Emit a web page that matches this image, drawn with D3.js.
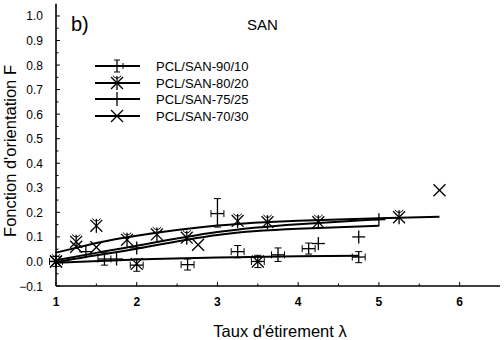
<!DOCTYPE html>
<html>
<head>
<meta charset="utf-8">
<script src="https://cdn.jsdelivr.net/npm/d3@7"></script>
<style>
  body { margin: 0; background: #fff; }
  text { font-family: "Liberation Sans", Arial, sans-serif; fill: #000; }
</style>
</head>
<body>
<div id="chart"></div>
<script>
// values
const xTicks = [1, 2, 3, 4, 5, 6];
const yTicks = [-0.1, 0.0, 0.1, 0.2, 0.3, 0.4, 0.5, 0.6, 0.7, 0.8, 0.9, 1.0];
const seriesNames = ["PCL/SAN-90/10", "PCL/SAN-80/20", "PCL/SAN-75/25", "PCL/SAN-70/30"];

// 90/10 : crosses with error bars
const s90x   = [1.0, 1.6, 2.0, 2.63, 3.0, 3.25, 3.5, 3.75, 4.13, 4.75];
const s90y   = [0.0, 0.01, -0.015, -0.013, 0.195, 0.04, 0.0, 0.027, 0.052, 0.018];
const s90lo  = [-0.02, -0.015, -0.04, -0.035, 0.14, 0.015, -0.025, 0.0, 0.03, -0.005];
const s90hi  = [0.02, 0.035, 0.01, 0.01, 0.256, 0.065, 0.025, 0.055, 0.075, 0.04];
const s90xe  = 0.08;
// 80/20 : asterisks
const s80x = [1.0, 1.25, 1.5, 1.88, 2.25, 2.62, 3.25, 3.62, 4.25, 5.25];
const s80y = [0.0, 0.08, 0.145, 0.088, 0.11, 0.097, 0.165, 0.16, 0.16, 0.18];
// 75/25 : plain crosses
const s75x = [1.0, 1.37, 1.75, 2.0, 4.25, 4.75, 5.0];
const s75y = [0.0, 0.04, 0.01, 0.055, 0.073, 0.1, 0.17];
// 70/30 : x marks
const s70x = [1.0, 1.25, 1.5, 2.0, 2.76, 3.5, 5.75];
const s70y = [0.0, 0.06, 0.058, -0.01, 0.068, 0.0, 0.29];

// fitted curves
const fit90x = [1, 2, 3, 4, 4.75];
const fit90y = [-0.005, 0.008, 0.016, 0.021, 0.023];
const fit80x = [1, 1.5, 2, 3, 4, 5, 5.75];
const fit80y = [0.036, 0.075, 0.105, 0.146, 0.166, 0.176, 0.182];
const fit75x = [1, 1.5, 2, 3, 4, 5];
const fit75y = [0.005, 0.035, 0.064, 0.12, 0.152, 0.172];
const fit70x = [1, 1.5, 2, 3, 4, 5];
const fit70y = [-0.003, 0.025, 0.052, 0.108, 0.133, 0.145];

const W = 504, H = 340;
const svg = d3.select("#chart").append("svg")
  .attr("width", W).attr("height", H);

const x = d3.scaleLinear().domain([1, 6.5]).range([56, 500]);
const y = d3.scaleLinear().domain([-0.1, 1.05]).range([286, 3.7]);

// axes
svg.append("line").attr("x1", x(1)).attr("x2", x(6.5)).attr("y1", y(-0.1)).attr("y2", y(-0.1))
  .attr("stroke", "#000").attr("stroke-width", 1.6);
svg.append("line").attr("x1", x(1)).attr("x2", x(1)).attr("y1", y(-0.1)).attr("y2", y(1.05))
  .attr("stroke", "#000").attr("stroke-width", 1.6);

// y ticks (inward) major + minor
const yMinor = d3.range(-0.05, 1.05, 0.1);
svg.append("g").selectAll("line").data(yTicks).join("line")
  .attr("x1", x(1)).attr("x2", x(1) + 4)
  .attr("y1", d => y(d)).attr("y2", d => y(d))
  .attr("stroke", "#000");
svg.append("g").selectAll("line").data(yMinor).join("line")
  .attr("x1", x(1)).attr("x2", x(1) + 2.5)
  .attr("y1", d => y(d)).attr("y2", d => y(d))
  .attr("stroke", "#000");
svg.append("g").selectAll("text").data(yTicks).join("text")
  .attr("x", 43).attr("y", d => y(d) + 4.5)
  .attr("text-anchor", "end").style("font-size", "12px")
  .text(d => d3.format(".1f")(d));

// x ticks (inward)
const xMinor = [1.5, 2.5, 3.5, 4.5, 5.5];
svg.append("g").selectAll("line").data(xTicks).join("line")
  .attr("x1", d => x(d)).attr("x2", d => x(d))
  .attr("y1", y(-0.1)).attr("y2", y(-0.1) - 4)
  .attr("stroke", "#000");
svg.append("g").selectAll("line").data(xMinor).join("line")
  .attr("x1", d => x(d)).attr("x2", d => x(d))
  .attr("y1", y(-0.1)).attr("y2", y(-0.1) - 2.5)
  .attr("stroke", "#000");
svg.append("g").selectAll("text").data(xTicks).join("text")
  .attr("x", d => x(d)).attr("y", 306)
  .attr("text-anchor", "middle").style("font-size", "12px").style("font-weight", "bold")
  .text(d => d);

// axis titles
svg.append("text").attr("x", 280).attr("y", 337).attr("text-anchor", "middle")
  .style("font-size", "16.5px").text("Taux d'étirement λ");
svg.append("text").attr("transform", "translate(16,151)rotate(-90)").attr("text-anchor", "middle")
  .style("font-size", "16.5px").text("Fonction d'orientation F");

svg.append("text").attr("x", 71).attr("y", 31).style("font-size", "20px").text("b)");
svg.append("text").attr("x", 247).attr("y", 30).style("font-size", "15px").text("SAN");

// fit curves
const line = d3.line().x(d => x(d[0])).y(d => y(d[1])).curve(d3.curveNatural);
const fits = [[fit90x, fit90y], [fit80x, fit80y], [fit75x, fit75y], [fit70x, fit70y]];
svg.append("g").selectAll("path").data(fits).join("path")
  .attr("d", f => line(d3.zip(f[0], f[1])))
  .attr("fill", "none").attr("stroke", "#000").attr("stroke-width", 2);

// marker shapes
function cross(g, r) {
  g.append("line").attr("x1", -r).attr("x2", r).attr("stroke", "#000").attr("stroke-width", 1.3);
  g.append("line").attr("y1", -r).attr("y2", r).attr("stroke", "#000").attr("stroke-width", 1.3);
}
function xmark(g, r) {
  g.append("line").attr("x1", -r).attr("y1", -r).attr("x2", r).attr("y2", r).attr("stroke", "#000").attr("stroke-width", 1.3);
  g.append("line").attr("x1", -r).attr("y1", r).attr("x2", r).attr("y2", -r).attr("stroke", "#000").attr("stroke-width", 1.3);
}
function aster(g, r) {
  xmark(g, r * 0.85);
  g.append("line").attr("y1", -r).attr("y2", r).attr("stroke", "#000").attr("stroke-width", 1.3);
  g.append("path").attr("d", `M${-r * 0.6},${-r * 1.05} Q0,${-r * 0.3} ${r * 0.6},${-r * 1.05}`).attr("fill", "none").attr("stroke", "#000");
}

// 90/10 error-bar crosses
const eb = svg.append("g").selectAll("g").data(d3.range(s90x.length)).join("g");
eb.append("line")
  .attr("x1", i => x(s90x[i] - s90xe)).attr("x2", i => x(s90x[i] + s90xe))
  .attr("y1", i => y(s90y[i])).attr("y2", i => y(s90y[i]))
  .attr("stroke", "#000").attr("stroke-width", 1.3);
eb.append("line")
  .attr("x1", i => x(s90x[i])).attr("x2", i => x(s90x[i]))
  .attr("y1", i => y(s90lo[i])).attr("y2", i => y(s90hi[i]))
  .attr("stroke", "#000").attr("stroke-width", 1.3);
[s90lo, s90hi].forEach(arr => {
  eb.append("line")
    .attr("x1", i => x(s90x[i]) - 3.5).attr("x2", i => x(s90x[i]) + 3.5)
    .attr("y1", i => y(arr[i])).attr("y2", i => y(arr[i]))
    .attr("stroke", "#000");
});
[-1, 1].forEach(sg => {
  eb.append("line")
    .attr("x1", i => x(s90x[i] + sg * s90xe)).attr("x2", i => x(s90x[i] + sg * s90xe))
    .attr("y1", i => y(s90y[i]) - 3.5).attr("y2", i => y(s90y[i]) + 3.5)
    .attr("stroke", "#000");
});

svg.append("g").selectAll("g").data(d3.zip(s80x, s80y)).join("g")
  .attr("transform", d => `translate(${x(d[0])},${y(d[1])})`)
  .each(function () { aster(d3.select(this), 7); });
svg.append("g").selectAll("g").data(d3.zip(s75x, s75y)).join("g")
  .attr("transform", d => `translate(${x(d[0])},${y(d[1])})`)
  .each(function () { cross(d3.select(this), 6.5); });
svg.append("g").selectAll("g").data(d3.zip(s70x, s70y)).join("g")
  .attr("transform", d => `translate(${x(d[0])},${y(d[1])})`)
  .each(function () { xmark(d3.select(this), 6); });

// legend
const legY = [66, 83, 99, 116];
const leg = svg.append("g").selectAll("g").data(seriesNames).join("g")
  .attr("transform", (d, i) => `translate(117,${legY[i]})`);
leg.append("line").attr("x1", -22).attr("x2", 23).attr("stroke", "#000").attr("stroke-width", 2);
leg.append("text").attr("x", 39).attr("y", 4.5).style("font-size", "13px").text(d => d);
leg.each(function (d, i) {
  const g = d3.select(this);
  if (i === 0) {
    g.append("line").attr("y1", -6).attr("y2", 6).attr("stroke", "#000").attr("stroke-width", 1.3);
    g.append("line").attr("x1", -3).attr("x2", 3).attr("y1", -6).attr("y2", -6).attr("stroke", "#000");
    g.append("line").attr("x1", -3).attr("x2", 3).attr("y1", 6).attr("y2", 6).attr("stroke", "#000");
    g.append("line").attr("x1", 6).attr("x2", 6).attr("y1", -3).attr("y2", 3).attr("stroke", "#000");
  } else if (i === 1) aster(g, 7);
  else if (i === 2) cross(g, 7);
  else xmark(g, 6);
});
</script>
</body>
</html>
